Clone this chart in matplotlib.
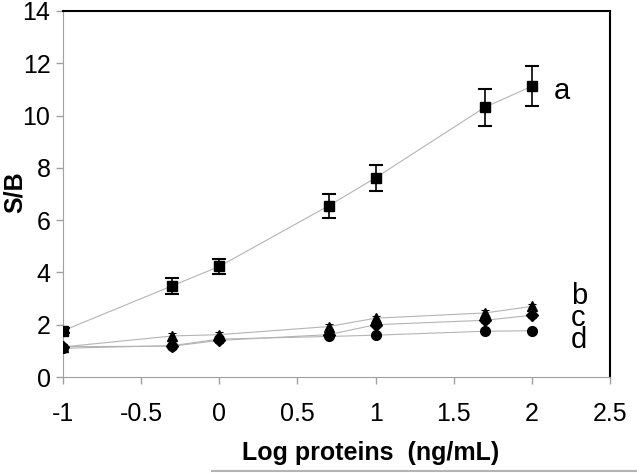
import matplotlib
matplotlib.use("Agg")
import matplotlib.pyplot as plt
from matplotlib.lines import Line2D

plt.rcParams['font.family'] = ['Liberation Sans', 'DejaVu Sans']

x = [-1, -0.3, 0, 0.7, 1, 1.7, 2]
a_vals = [1.77, 3.49, 4.23, 6.55, 7.62, 10.32, 11.12]
a_err = [0.1, 0.3, 0.3, 0.45, 0.5, 0.7, 0.77]
b_vals = [1.15, 1.57, 1.62, 1.93, 2.25, 2.45, 2.7]
b_err = [0.1, 0.1, 0.1, 0.1, 0.1, 0.1, 0.1]
c_vals = [1.16, 1.18, 1.4, 1.62, 2.0, 2.17, 2.36]
c_err = [0.1, 0.1, 0.1, 0.1, 0.1, 0.1, 0.1]
d_vals = [1.1, 1.2, 1.45, 1.55, 1.6, 1.75, 1.77]
d_err = [0.08, 0.08, 0.08, 0.08, 0.08, 0.08, 0.08]

label_a = 'a'
label_a_pos = (2.14, 10.95)
labels_bcd = ['b', 'c', 'd']
label_bcd_pos = (2.25, 2.26)
xticks = [-1, -0.5, 0, 0.5, 1, 1.5, 2, 2.5]
xticklabels = ['-1', '-0.5', '0', '0.5', '1', '1.5', '2', '2.5']
yticks = [0, 2, 4, 6, 8, 10, 12, 14]

fig = plt.figure(figsize=(6.37, 4.73), dpi=100)
ax = fig.add_axes([63/637, 1-377/473, (610-63)/637, (377-11)/473])

line_kw = dict(color='#b4b4b4', lw=0.8, zorder=1)
for vals in (a_vals, b_vals, c_vals, d_vals):
    ax.plot(x, vals, **line_kw)

ax.errorbar(x, a_vals, yerr=a_err, fmt='none', ecolor='black', elinewidth=1.2,
            capsize=5, capthick=1.5, zorder=2)
for vals, err in ((b_vals, b_err), (c_vals, c_err), (d_vals, d_err)):
    ax.errorbar(x, vals, yerr=err, fmt='none', ecolor='black', elinewidth=0.8,
                capsize=3, capthick=0.8, zorder=2, ls='none')

ax.plot(x, a_vals, 's', color='black', ms=7.5, zorder=3)
ax.plot(x, d_vals, 'o', color='black', ms=7, zorder=3)
ax.plot(x, b_vals, '^', color='black', ms=7, zorder=3)
ax.plot(x, c_vals, 'D', color='black', ms=6.5, zorder=4)

ax.text(*label_a_pos, label_a, fontsize=21, ha='left', va='center')
ax.text(*label_bcd_pos, '\n'.join(labels_bcd), fontsize=21, ha='left',
        va='center', linespacing=0.72)

ax.set_xlim(-1, 2.5)
ax.set_ylim(0, 14)
ax.set_xticks(xticks)
ax.set_xticklabels(xticklabels)
ax.set_yticks(yticks)
ax.tick_params(axis='both', labelsize=18, color='#a0a0a0', length=5, width=1,
               direction='out')
ax.tick_params(axis='x', pad=13)
ax.tick_params(axis='y', pad=4)

ax.spines['left'].set_color('#a0a0a0')
ax.spines['bottom'].set_color('#a0a0a0')
ax.spines['top'].set_color('black')
ax.spines['right'].set_color('black')
ax.spines['top'].set_linewidth(1.5)
ax.spines['right'].set_linewidth(1.5)

fig.text(15/637, 1-192/473, 'S/B', rotation=90, fontsize=18, fontweight='bold',
         ha='center', va='center')
fig.text(371/637, 1-453/473, 'Log proteins  (ng/mL)', fontsize=18,
         fontweight='bold', ha='center', va='center')
fig.add_artist(Line2D([212/637, 1.0], [1-471/473, 1-471/473], color='#b4b4b4', lw=1.5,
                      transform=fig.transFigure))

fig.savefig('out.png', dpi=100)
